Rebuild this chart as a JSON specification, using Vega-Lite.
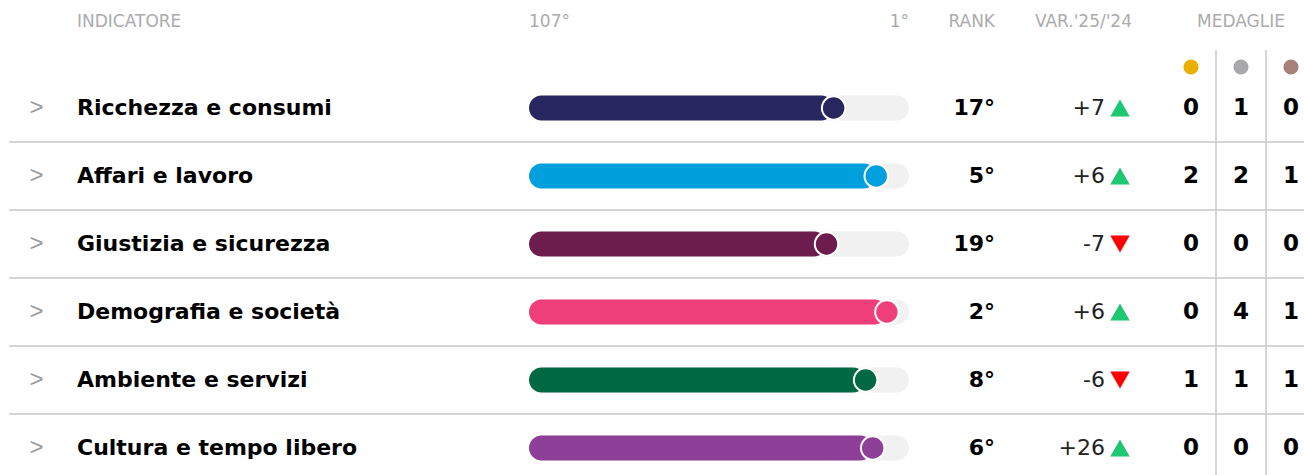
{
  "$schema": "https://vega.github.io/schema/vega-lite/v6.json",
  "padding": {"left": 8, "top": 0, "right": 0, "bottom": 0},
  "background": "white",
  "spacing": 0,
  "bounds": "flush",
  "columns": 7,
  "config": {"view": {"stroke": null}},
  "datasets": {
    "indicatori": [
      {"indicatore": "Ricchezza e consumi", "rank": 17, "var": 7},
      {"indicatore": "Affari e lavoro", "rank": 5, "var": 6},
      {"indicatore": "Giustizia e sicurezza", "rank": 19, "var": -7},
      {"indicatore": "Demografia e società", "rank": 2, "var": 6},
      {"indicatore": "Ambiente e servizi", "rank": 8, "var": -6},
      {"indicatore": "Cultura e tempo libero", "rank": 6, "var": 26}
    ],
    "medaglie": [
      {"indicatore": "Ricchezza e consumi", "medaglia": "oro", "n": 0},
      {"indicatore": "Ricchezza e consumi", "medaglia": "argento", "n": 1},
      {"indicatore": "Ricchezza e consumi", "medaglia": "bronzo", "n": 0},
      {"indicatore": "Affari e lavoro", "medaglia": "oro", "n": 2},
      {"indicatore": "Affari e lavoro", "medaglia": "argento", "n": 2},
      {"indicatore": "Affari e lavoro", "medaglia": "bronzo", "n": 1},
      {"indicatore": "Giustizia e sicurezza", "medaglia": "oro", "n": 0},
      {"indicatore": "Giustizia e sicurezza", "medaglia": "argento", "n": 0},
      {"indicatore": "Giustizia e sicurezza", "medaglia": "bronzo", "n": 0},
      {"indicatore": "Demografia e società", "medaglia": "oro", "n": 0},
      {"indicatore": "Demografia e società", "medaglia": "argento", "n": 4},
      {"indicatore": "Demografia e società", "medaglia": "bronzo", "n": 1},
      {"indicatore": "Ambiente e servizi", "medaglia": "oro", "n": 1},
      {"indicatore": "Ambiente e servizi", "medaglia": "argento", "n": 1},
      {"indicatore": "Ambiente e servizi", "medaglia": "bronzo", "n": 1},
      {"indicatore": "Cultura e tempo libero", "medaglia": "oro", "n": 0},
      {"indicatore": "Cultura e tempo libero", "medaglia": "argento", "n": 0},
      {"indicatore": "Cultura e tempo libero", "medaglia": "bronzo", "n": 0}
    ],
    "tipi": [{"medaglia": "oro"}, {"medaglia": "argento"}, {"medaglia": "bronzo"}],
    "divisori": [{"medaglia": "argento"}, {"medaglia": "bronzo"}]
  },
  "concat": [
    {"width": 55, "height": 50, "data": {"values": [{}]}, "mark": {"type": "text", "text": ""}, "encoding": {}},
    {"width": 26, "height": 50, "data": {"values": [{}]},
     "mark": {"type": "text", "text": "INDICATORE", "align": "left", "dy": -3, "font": "DejaVu Sans", "fontSize": 17, "letterSpacing": 0.5, "color": "#ababab"}, "encoding": {}},
    {"width": 439, "height": 50, "data": {"values": [{}]}, "mark": {"type": "text", "text": ""}, "encoding": {}},
    {"width": 380, "height": 50, "data": {"values": [{}]},
     "layer": [
       {"mark": {"type": "text", "text": "107°", "align": "left", "dy": -3, "font": "DejaVu Sans", "fontSize": 17, "letterSpacing": 0.5, "color": "#ababab"},
        "encoding": {"x": {"datum": 107, "type": "quantitative", "scale": {"domain": [107, 0]}, "axis": null}}},
       {"mark": {"type": "text", "text": "1°", "align": "right", "dy": -3, "font": "DejaVu Sans", "fontSize": 17, "letterSpacing": 0.5, "color": "#ababab"},
        "encoding": {"x": {"datum": 0, "type": "quantitative", "scale": {"domain": [107, 0]}, "axis": null}}}
     ]},
    {"width": 172, "height": 50, "data": {"values": [{}]},
     "mark": {"type": "text", "text": "RANK", "align": "right", "dy": -3, "font": "DejaVu Sans", "fontSize": 17, "letterSpacing": 0.8, "color": "#ababab"}, "encoding": {}},
    {"width": 85, "height": 50, "data": {"values": [{}]},
     "mark": {"type": "text", "text": "VAR.'25/'24", "align": "right", "dx": 8.5, "dy": -3, "font": "DejaVu Sans", "fontSize": 17, "letterSpacing": 0.5, "color": "#ababab"}, "encoding": {}},
    {"width": 150, "height": 50, "data": {"values": [{}]},
     "mark": {"type": "text", "text": "MEDAGLIE", "align": "center", "dy": -3, "font": "DejaVu Sans", "fontSize": 17, "letterSpacing": 0.5, "color": "#ababab"}, "encoding": {}},

    {"width": 55, "height": 24, "data": {"values": [{}]}, "mark": {"type": "text", "text": ""}, "encoding": {}},
    {"width": 26, "height": 24, "data": {"values": [{}]}, "mark": {"type": "text", "text": ""}, "encoding": {}},
    {"width": 439, "height": 24, "data": {"values": [{}]}, "mark": {"type": "text", "text": ""}, "encoding": {}},
    {"width": 380, "height": 24, "data": {"values": [{}]}, "mark": {"type": "text", "text": ""}, "encoding": {}},
    {"width": 172, "height": 24, "data": {"values": [{}]}, "mark": {"type": "text", "text": ""}, "encoding": {}},
    {"width": 85, "height": 24, "data": {"values": [{}]}, "mark": {"type": "text", "text": ""}, "encoding": {}},
    {"width": 150, "height": 24,
     "layer": [
       {"data": {"name": "divisori"},
        "mark": {"type": "rule", "color": "#c8c8c8", "strokeWidth": 1.5, "xOffset": -25},
        "encoding": {"x": {"field": "medaglia", "type": "nominal", "scale": {"type": "band", "domain": ["oro", "argento", "bronzo"], "paddingInner": 0, "paddingOuter": 0}, "axis": null}}},
       {"data": {"name": "tipi"},
        "mark": {"type": "point", "filled": true, "size": 230, "opacity": 1, "yOffset": 5},
        "encoding": {
          "x": {"field": "medaglia", "type": "nominal", "scale": {"type": "band", "domain": ["oro", "argento", "bronzo"], "paddingInner": 0, "paddingOuter": 0}, "axis": null},
          "fill": {"field": "medaglia", "type": "nominal", "scale": {"domain": ["oro", "argento", "bronzo"], "range": ["#e8b000", "#a9a9ab", "#a8827a"]}, "legend": null}
        }}
     ]},

    {"width": 55, "height": 408, "data": {"name": "indicatori"},
     "layer": [
       {"mark": {"type": "rule", "color": "#c8c8c8", "strokeWidth": 1.5, "yOffset": 34},
        "encoding": {"y": {"field": "indicatore", "type": "nominal", "scale": {"type": "band", "domain": ["Ricchezza e consumi", "Affari e lavoro", "Giustizia e sicurezza", "Demografia e società", "Ambiente e servizi", "Cultura e tempo libero"], "paddingInner": 0, "paddingOuter": 0}, "axis": null}}},
       {"mark": {"type": "text", "text": ">", "font": "Liberation Sans", "fontSize": 24, "color": "#9a9a9a"},
        "encoding": {"y": {"field": "indicatore", "type": "nominal", "axis": null}}}
     ]},
    {"width": 26, "height": 408, "data": {"name": "indicatori"},
     "layer": [
       {"mark": {"type": "rule", "color": "#c8c8c8", "strokeWidth": 1.5, "yOffset": 34},
        "encoding": {"y": {"field": "indicatore", "type": "nominal", "scale": {"type": "band", "domain": ["Ricchezza e consumi", "Affari e lavoro", "Giustizia e sicurezza", "Demografia e società", "Ambiente e servizi", "Cultura e tempo libero"], "paddingInner": 0, "paddingOuter": 0}, "axis": null}}},
       {"mark": {"type": "text", "align": "left", "font": "DejaVu Sans", "fontWeight": "bold", "fontSize": 22, "color": "#000000"},
        "encoding": {
          "y": {"field": "indicatore", "type": "nominal", "axis": null},
          "text": {"field": "indicatore", "type": "nominal"}
        }}
     ]},
    {"width": 439, "height": 408, "data": {"name": "indicatori"},
     "mark": {"type": "rule", "color": "#c8c8c8", "strokeWidth": 1.5, "yOffset": 34},
     "encoding": {"y": {"field": "indicatore", "type": "nominal", "scale": {"type": "band", "domain": ["Ricchezza e consumi", "Affari e lavoro", "Giustizia e sicurezza", "Demografia e società", "Ambiente e servizi", "Cultura e tempo libero"], "paddingInner": 0, "paddingOuter": 0}, "axis": null}}},
    {"width": 380, "height": 408, "data": {"name": "indicatori"},
     "resolve": {"scale": {"x": "independent"}},
     "layer": [
       {"mark": {"type": "rule", "color": "#c8c8c8", "strokeWidth": 1.5, "yOffset": 34},
        "encoding": {"y": {"field": "indicatore", "type": "nominal", "scale": {"type": "band", "domain": ["Ricchezza e consumi", "Affari e lavoro", "Giustizia e sicurezza", "Demografia e società", "Ambiente e servizi", "Cultura e tempo libero"], "paddingInner": 0, "paddingOuter": 0}, "axis": null}}},
       {"mark": {"type": "bar", "size": 25, "cornerRadius": 12.5, "color": "#f1f1f1"},
        "encoding": {
          "y": {"field": "indicatore", "type": "nominal", "axis": null},
          "x": {"datum": 107, "type": "quantitative", "scale": {"domain": [107, 0]}, "axis": null},
          "x2": {"datum": 0}
        }},
       {"mark": {"type": "bar", "size": 25, "cornerRadius": 12.5, "xOffset": -15},
        "encoding": {
          "y": {"field": "indicatore", "type": "nominal", "axis": null},
          "x": {"field": "rank", "type": "quantitative", "scale": {"domain": [107, 0]}, "axis": null},
          "x2": {"datum": 107},
          "color": {"field": "indicatore", "type": "nominal", "scale": {"domain": ["Ricchezza e consumi", "Affari e lavoro", "Giustizia e sicurezza", "Demografia e società", "Ambiente e servizi", "Cultura e tempo libero"], "range": ["#29275f", "#00a0dc", "#6d1c4e", "#ee3f7a", "#006843", "#8e3f97"]}, "legend": null}
        }},
       {"mark": {"type": "point", "filled": true, "opacity": 1, "size": 550, "stroke": "white", "strokeWidth": 2, "xOffset": -15},
        "encoding": {
          "y": {"field": "indicatore", "type": "nominal", "axis": null},
          "x": {"field": "rank", "type": "quantitative", "scale": {"domain": [107, 0]}, "axis": null},
          "color": {"field": "indicatore", "type": "nominal", "legend": null}
        }}
     ]},
    {"width": 172, "height": 408, "data": {"name": "indicatori"},
     "transform": [{"calculate": "datum.rank + '°'", "as": "rank_label"}],
     "layer": [
       {"mark": {"type": "rule", "color": "#c8c8c8", "strokeWidth": 1.5, "yOffset": 34},
        "encoding": {"y": {"field": "indicatore", "type": "nominal", "scale": {"type": "band", "domain": ["Ricchezza e consumi", "Affari e lavoro", "Giustizia e sicurezza", "Demografia e società", "Ambiente e servizi", "Cultura e tempo libero"], "paddingInner": 0, "paddingOuter": 0}, "axis": null}}},
       {"mark": {"type": "text", "align": "right", "font": "DejaVu Sans", "fontWeight": "bold", "fontSize": 22, "color": "#000000"},
        "encoding": {
          "y": {"field": "indicatore", "type": "nominal", "axis": null},
          "text": {"field": "rank_label", "type": "nominal"}
        }}
     ]},
    {"width": 85, "height": 408, "data": {"name": "indicatori"},
     "transform": [{"calculate": "(datum.var > 0 ? '+' : '') + datum.var", "as": "var_label"}],
     "layer": [
       {"mark": {"type": "rule", "color": "#c8c8c8", "strokeWidth": 1.5, "yOffset": 34},
        "encoding": {"y": {"field": "indicatore", "type": "nominal", "scale": {"type": "band", "domain": ["Ricchezza e consumi", "Affari e lavoro", "Giustizia e sicurezza", "Demografia e società", "Ambiente e servizi", "Cultura e tempo libero"], "paddingInner": 0, "paddingOuter": 0}, "axis": null}}},
       {"mark": {"type": "text", "align": "right", "dx": -18.5, "font": "DejaVu Sans", "fontSize": 22, "color": "#222222"},
        "encoding": {
          "y": {"field": "indicatore", "type": "nominal", "axis": null},
          "text": {"field": "var_label", "type": "nominal"}
        }},
       {"transform": [{"filter": "datum.var > 0"}],
        "mark": {"type": "point", "shape": "triangle-up", "color": "#1dc870", "filled": true, "opacity": 1, "size": 380, "xOffset": -3.5},
        "encoding": {"y": {"field": "indicatore", "type": "nominal", "axis": null}}},
       {"transform": [{"filter": "datum.var < 0"}],
        "mark": {"type": "point", "shape": "triangle-down", "color": "#ff0000", "filled": true, "opacity": 1, "size": 380, "xOffset": -3.5},
        "encoding": {"y": {"field": "indicatore", "type": "nominal", "axis": null}}}
     ]},
    {"width": 150, "height": 408,
     "resolve": {"scale": {"x": "independent", "y": "independent"}},
     "layer": [
       {"data": {"name": "indicatori"},
        "mark": {"type": "rule", "color": "#c8c8c8", "strokeWidth": 1.5, "yOffset": 34},
        "encoding": {"y": {"field": "indicatore", "type": "nominal", "scale": {"type": "band", "domain": ["Ricchezza e consumi", "Affari e lavoro", "Giustizia e sicurezza", "Demografia e società", "Ambiente e servizi", "Cultura e tempo libero"], "paddingInner": 0, "paddingOuter": 0}, "axis": null}}},
       {"data": {"name": "divisori"},
        "mark": {"type": "rule", "color": "#c8c8c8", "strokeWidth": 1.5, "xOffset": -25},
        "encoding": {"x": {"field": "medaglia", "type": "nominal", "scale": {"type": "band", "domain": ["oro", "argento", "bronzo"], "paddingInner": 0, "paddingOuter": 0}, "axis": null}}},
       {"data": {"name": "medaglie"},
        "mark": {"type": "text", "font": "DejaVu Sans", "fontWeight": "bold", "fontSize": 23, "color": "#000000"},
        "encoding": {
          "x": {"field": "medaglia", "type": "nominal", "scale": {"type": "band", "domain": ["oro", "argento", "bronzo"], "paddingInner": 0, "paddingOuter": 0}, "axis": null},
          "y": {"field": "indicatore", "type": "nominal", "scale": {"type": "band", "domain": ["Ricchezza e consumi", "Affari e lavoro", "Giustizia e sicurezza", "Demografia e società", "Ambiente e servizi", "Cultura e tempo libero"], "paddingInner": 0, "paddingOuter": 0}, "axis": null},
          "text": {"field": "n", "type": "quantitative"}
        }}
     ]}
  ]
}
